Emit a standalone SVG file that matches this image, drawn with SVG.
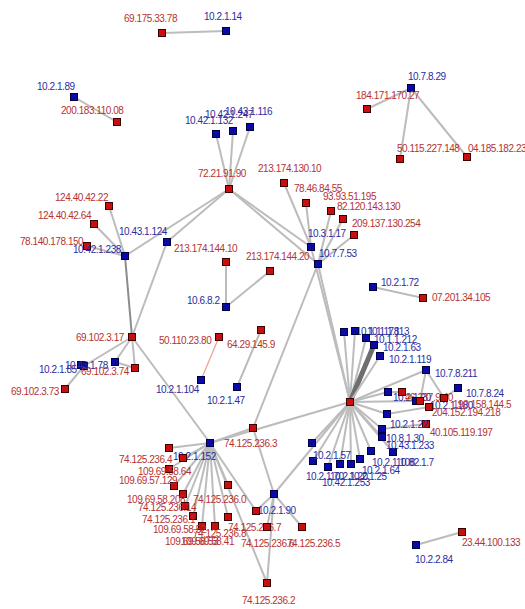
<svg xmlns="http://www.w3.org/2000/svg" width="525" height="609" viewBox="0 0 525 609">
<defs>
<style>
.e{stroke:#bcbcbc;stroke-width:2;fill:none}
.ed{stroke:#8c8c8c;stroke-width:2}
.et{stroke:#6e6e6e;stroke-width:5}
.es{stroke:#e9a08c;stroke-width:1.2}
.r{fill:#c80e0e;stroke:#3a0000;stroke-width:1}
.b{fill:#0a0aa8;stroke:#00003a;stroke-width:1}
text{font-family:"Liberation Sans",Arial,sans-serif;font-size:10px;letter-spacing:-0.45px}
.lr{fill:#b53232}
.lb{fill:#2b2ba0}
</style>
</defs>
<rect width="525" height="609" fill="#ffffff"/>
<g id="connectors">
<line class="e" x1="162" y1="33" x2="226" y2="31"/>
<line class="e" x1="74" y1="97" x2="117" y2="122"/>
<line class="e" x1="411" y1="88" x2="367" y2="109"/>
<line class="e" x1="411" y1="88" x2="400" y2="159"/>
<line class="e" x1="411" y1="88" x2="467" y2="157"/>
<line class="e" x1="229" y1="189" x2="216" y2="134"/>
<line class="e" x1="229" y1="189" x2="233" y2="131"/>
<line class="e" x1="229" y1="189" x2="250" y2="127"/>
<line class="e" x1="229" y1="189" x2="125" y2="256"/>
<line class="e" x1="229" y1="189" x2="167" y2="242"/>
<line class="e" x1="229" y1="189" x2="311" y2="247"/>
<line class="e" x1="229" y1="189" x2="318" y2="264"/>
<line class="e" x1="125" y1="256" x2="109" y2="206"/>
<line class="e" x1="125" y1="256" x2="94" y2="224"/>
<line class="e" x1="125" y1="256" x2="87" y2="246"/>
<line class="ed" x1="125" y1="256" x2="132" y2="337"/>
<line class="e" x1="167" y1="242" x2="132" y2="337"/>
<line class="e" x1="226" y1="262" x2="226" y2="307"/>
<line class="e" x1="226" y1="307" x2="270" y2="271"/>
<line class="e" x1="311" y1="247" x2="284" y2="183"/>
<line class="e" x1="311" y1="247" x2="306" y2="203"/>
<line class="e" x1="318" y1="264" x2="331" y2="211"/>
<line class="e" x1="318" y1="264" x2="343" y2="219"/>
<line class="e" x1="318" y1="264" x2="354" y2="235"/>
<line class="e" x1="311" y1="247" x2="350" y2="402"/>
<line class="e" x1="318" y1="264" x2="350" y2="402"/>
<line class="e" x1="318" y1="264" x2="253" y2="428"/>
<line class="e" x1="373" y1="287" x2="423" y2="298"/>
<line class="e" x1="132" y1="337" x2="84" y2="366"/>
<line class="e" x1="132" y1="337" x2="115" y2="362"/>
<line class="e" x1="132" y1="337" x2="135" y2="368"/>
<line class="e" x1="115" y1="362" x2="135" y2="368"/>
<line class="e" x1="132" y1="337" x2="210" y2="443"/>
<line class="e" x1="65" y1="389" x2="84" y2="366"/>
<line class="es" x1="219" y1="337" x2="201" y2="380"/>
<line class="e" x1="261" y1="330" x2="237" y2="387"/>
<line class="e" x1="350" y1="402" x2="344" y2="332"/>
<line class="e" x1="350" y1="402" x2="355" y2="331"/>
<line class="e" x1="350" y1="402" x2="366" y2="338"/>
<line class="et" x1="350" y1="402" x2="374" y2="345"/>
<line class="e" x1="350" y1="402" x2="380" y2="356"/>
<line class="e" x1="350" y1="402" x2="426" y2="370"/>
<line class="e" x1="350" y1="402" x2="388" y2="392"/>
<line class="e" x1="350" y1="402" x2="416" y2="401"/>
<line class="e" x1="350" y1="402" x2="387" y2="414"/>
<line class="e" x1="350" y1="402" x2="382" y2="429"/>
<line class="e" x1="350" y1="402" x2="382" y2="437"/>
<line class="e" x1="350" y1="402" x2="393" y2="452"/>
<line class="e" x1="350" y1="402" x2="371" y2="451"/>
<line class="e" x1="350" y1="402" x2="360" y2="459"/>
<line class="e" x1="350" y1="402" x2="351" y2="464"/>
<line class="e" x1="350" y1="402" x2="340" y2="464"/>
<line class="e" x1="350" y1="402" x2="328" y2="467"/>
<line class="e" x1="350" y1="402" x2="313" y2="461"/>
<line class="e" x1="350" y1="402" x2="312" y2="443"/>
<line class="e" x1="350" y1="402" x2="274" y2="494"/>
<line class="e" x1="350" y1="402" x2="210" y2="443"/>
<line class="e" x1="426" y1="370" x2="444" y2="398"/>
<line class="e" x1="426" y1="370" x2="420" y2="401"/>
<line class="e" x1="458" y1="388" x2="444" y2="398"/>
<line class="e" x1="388" y1="392" x2="402" y2="392"/>
<line class="e" x1="387" y1="414" x2="429" y2="407"/>
<line class="e" x1="382" y1="429" x2="426" y2="424"/>
<line class="e" x1="210" y1="443" x2="169" y2="448"/>
<line class="e" x1="210" y1="443" x2="183" y2="458"/>
<line class="e" x1="210" y1="443" x2="169" y2="469"/>
<line class="e" x1="210" y1="443" x2="174" y2="486"/>
<line class="e" x1="210" y1="443" x2="183" y2="494"/>
<line class="e" x1="210" y1="443" x2="185" y2="506"/>
<line class="e" x1="210" y1="443" x2="193" y2="516"/>
<line class="e" x1="210" y1="443" x2="202" y2="526"/>
<line class="e" x1="210" y1="443" x2="215" y2="526"/>
<line class="e" x1="210" y1="443" x2="228" y2="517"/>
<line class="e" x1="210" y1="443" x2="228" y2="485"/>
<line class="e" x1="210" y1="443" x2="256" y2="511"/>
<line class="e" x1="210" y1="443" x2="267" y2="583"/>
<line class="e" x1="210" y1="443" x2="253" y2="428"/>
<line class="e" x1="274" y1="494" x2="253" y2="428"/>
<line class="e" x1="274" y1="494" x2="256" y2="511"/>
<line class="e" x1="274" y1="494" x2="267" y2="527"/>
<line class="e" x1="274" y1="494" x2="302" y2="527"/>
<line class="e" x1="274" y1="494" x2="267" y2="583"/>
<line class="e" x1="416" y1="545" x2="462" y2="532"/>
</g>
<g id="n1"><rect class="r" x="158.5" y="29.5" width="7" height="7"/><text class="lr" x="124" y="22">69.175.33.78</text></g>
<g id="n2"><rect class="b" x="222.5" y="27.5" width="7" height="7"/><text class="lb" x="204" y="20">10.2.1.14</text></g>
<g id="n3"><rect class="b" x="70.5" y="93.5" width="7" height="7"/><text class="lb" x="37" y="90">10.2.1.89</text></g>
<g id="n4"><rect class="r" x="113.5" y="118.5" width="7" height="7"/><text class="lr" x="61" y="114">200.183.110.08</text></g>
<g id="n5"><rect class="b" x="407.5" y="84.5" width="7" height="7"/><text class="lb" x="408" y="80">10.7.8.29</text></g>
<g id="n6"><rect class="r" x="363.5" y="105.5" width="7" height="7"/><text class="lr" x="356" y="99">184.171.170.27</text></g>
<g id="n7"><rect class="r" x="396.5" y="155.5" width="7" height="7"/><text class="lr" x="397" y="152">50.115.227.148</text></g>
<g id="n8"><rect class="r" x="463.5" y="153.5" width="7" height="7"/><text class="lr" x="468" y="152">04.185.182.23</text></g>
<g id="n9"><rect class="b" x="212.5" y="130.5" width="7" height="7"/><text class="lb" x="185" y="124">10.42.1.132</text></g>
<g id="n10"><rect class="b" x="229.5" y="127.5" width="7" height="7"/><text class="lb" x="205" y="118">10.42.1.247</text></g>
<g id="n11"><rect class="b" x="246.5" y="123.5" width="7" height="7"/><text class="lb" x="225" y="115">10.43.1.116</text></g>
<g id="n12"><rect class="r" x="225.5" y="185.5" width="7" height="7"/><text class="lr" x="198" y="177">72.21.91.90</text></g>
<g id="n13"><rect class="r" x="280.5" y="179.5" width="7" height="7"/><text class="lr" x="258" y="172">213.174.130.10</text></g>
<g id="n14"><rect class="r" x="302.5" y="199.5" width="7" height="7"/><text class="lr" x="294" y="192">78.46.84.55</text></g>
<g id="n15"><rect class="r" x="327.5" y="207.5" width="7" height="7"/><text class="lr" x="323" y="200">93.93.51.195</text></g>
<g id="n16"><rect class="r" x="339.5" y="215.5" width="7" height="7"/><text class="lr" x="337" y="210">82.120.143.130</text></g>
<g id="n17"><rect class="r" x="350.5" y="231.5" width="7" height="7"/><text class="lr" x="352" y="227">209.137.130.254</text></g>
<g id="n18"><rect class="b" x="307.5" y="243.5" width="7" height="7"/><text class="lb" x="308" y="237">10.3.1.17</text></g>
<g id="n19"><rect class="b" x="314.5" y="260.5" width="7" height="7"/><text class="lb" x="319" y="257">10.7.7.53</text></g>
<g id="n20"><rect class="r" x="105.5" y="202.5" width="7" height="7"/><text class="lr" x="55" y="201">124.40.42.22</text></g>
<g id="n21"><rect class="r" x="90.5" y="220.5" width="7" height="7"/><text class="lr" x="38" y="219">124.40.42.64</text></g>
<g id="n22"><rect class="r" x="83.5" y="242.5" width="7" height="7"/><text class="lr" x="20" y="245">78.140.178.150</text></g>
<g id="n23"><rect class="b" x="121.5" y="252.5" width="7" height="7"/><text class="lb" x="73" y="253">10.42.1.238</text></g>
<g id="n24"><rect class="b" x="163.5" y="238.5" width="7" height="7"/><text class="lb" x="119" y="235">10.43.1.124</text></g>
<g id="n25"><rect class="r" x="222.5" y="258.5" width="7" height="7"/><text class="lr" x="174" y="252">213.174.144.10</text></g>
<g id="n26"><rect class="r" x="266.5" y="267.5" width="7" height="7"/><text class="lr" x="246" y="260">213.174.144.20</text></g>
<g id="n27"><rect class="b" x="222.5" y="303.5" width="7" height="7"/><text class="lb" x="187" y="304">10.6.8.2</text></g>
<g id="n28"><rect class="b" x="369.5" y="283.5" width="7" height="7"/><text class="lb" x="381" y="286">10.2.1.72</text></g>
<g id="n29"><rect class="r" x="419.5" y="294.5" width="7" height="7"/><text class="lr" x="432" y="301">07.201.34.105</text></g>
<g id="n30"><rect class="r" x="128.5" y="333.5" width="7" height="7"/><text class="lr" x="76" y="341">69.102.3.17</text></g>
<g id="n31"><rect class="r" x="215.5" y="333.5" width="7" height="7"/><text class="lr" x="159" y="344">50.110.23.80</text></g>
<g id="n32"><rect class="r" x="257.5" y="326.5" width="7" height="7"/><text class="lr" x="227" y="348">64.29.145.9</text></g>
<g id="n33"><rect class="b" x="197.5" y="376.5" width="7" height="7"/><text class="lb" x="156" y="393">10.2.1.104</text></g>
<g id="n34"><rect class="b" x="233.5" y="383.5" width="7" height="7"/><text class="lb" x="207" y="404">10.2.1.47</text></g>
<g id="n36"><rect class="b" x="77.5" y="361.5" width="7" height="7"/><text class="lb" x="39" y="373">10.2.1.85</text></g>
<g id="n35"><rect class="b" x="80.5" y="362.5" width="7" height="7"/><text class="lb" x="65" y="369">10.43.1.78</text></g>
<g id="n37"><rect class="b" x="111.5" y="358.5" width="7" height="7"/></g>
<g id="n38"><rect class="r" x="131.5" y="364.5" width="7" height="7"/><text class="lr" x="81" y="375">69.102.3.74</text></g>
<g id="n39"><rect class="r" x="61.5" y="385.5" width="7" height="7"/><text class="lr" x="11" y="395">69.102.3.73</text></g>
<g id="hub"><rect class="r" x="346.5" y="398.5" width="7" height="7"/></g>
<g id="b1"><rect class="b" x="340.5" y="328.5" width="7" height="7"/><text class="lb" x="356" y="335">10.1.1.178</text></g>
<g id="b2"><rect class="b" x="351.5" y="327.5" width="7" height="7"/><text class="lb" x="367" y="335">10.1.1.113</text></g>
<g id="b3"><rect class="b" x="362.5" y="334.5" width="7" height="7"/><text class="lb" x="374" y="343">10.1.1.212</text></g>
<g id="b4"><rect class="b" x="370.5" y="341.5" width="7" height="7"/><text class="lb" x="383" y="351">10.2.1.63</text></g>
<g id="b5"><rect class="b" x="376.5" y="352.5" width="7" height="7"/><text class="lb" x="389" y="363">10.2.1.119</text></g>
<g id="b6"><rect class="b" x="422.5" y="366.5" width="7" height="7"/><text class="lb" x="435" y="377">10.7.8.211</text></g>
<g id="b7"><rect class="b" x="384.5" y="388.5" width="7" height="7"/><text class="lb" x="393" y="401">10.2.1.20</text></g>
<g id="r1"><rect class="r" x="398.5" y="388.5" width="7" height="7"/><text class="lr" x="405" y="401">46.237.9.40</text></g>
<g id="b8"><rect class="b" x="412.5" y="397.5" width="7" height="7"/><text class="lb" x="430" y="409">10.2.1.180</text></g>
<g id="r2"><rect class="r" x="416.5" y="397.5" width="7" height="7"/></g>
<g id="r4"><rect class="r" x="440.5" y="394.5" width="7" height="7"/><text class="lr" x="453" y="408">190.158.144.5</text></g>
<g id="r3"><rect class="r" x="425.5" y="403.5" width="7" height="7"/><text class="lr" x="432" y="416">204.152.194.218</text></g>
<g id="b9"><rect class="b" x="454.5" y="384.5" width="7" height="7"/><text class="lb" x="466" y="397">10.7.8.24</text></g>
<g id="r5"><rect class="r" x="422.5" y="420.5" width="7" height="7"/><text class="lr" x="430" y="436">40.105.119.197</text></g>
<g id="b10"><rect class="b" x="383.5" y="410.5" width="7" height="7"/><text class="lb" x="390" y="428">10.2.1.22</text></g>
<g id="b11"><rect class="b" x="378.5" y="425.5" width="7" height="7"/><text class="lb" x="386" y="442">10.8.1.30</text></g>
<g id="b12"><rect class="b" x="378.5" y="433.5" width="7" height="7"/></g>
<g id="b13"><rect class="b" x="389.5" y="448.5" width="7" height="7"/><text class="lb" x="386" y="449">10.43.1.233</text></g>
<g id="b14"><rect class="b" x="367.5" y="447.5" width="7" height="7"/><text class="lb" x="372" y="466">10.2.1.108</text><text class="lb" x="396" y="466">10.82.1.7</text></g>
<g id="b15"><rect class="b" x="356.5" y="455.5" width="7" height="7"/><text class="lb" x="362" y="474">10.2.1.64</text></g>
<g id="b16"><rect class="b" x="347.5" y="460.5" width="7" height="7"/><text class="lb" x="349" y="480">10.2.1.25</text></g>
<g id="b17"><rect class="b" x="336.5" y="460.5" width="7" height="7"/><text class="lb" x="330" y="480">10.2.1.20</text></g>
<g id="b18"><rect class="b" x="324.5" y="463.5" width="7" height="7"/><text class="lb" x="322" y="486">10.42.1.253</text></g>
<g id="b19"><rect class="b" x="309.5" y="457.5" width="7" height="7"/><text class="lb" x="306" y="480">10.2.1.70</text></g>
<g id="b20"><rect class="b" x="308.5" y="439.5" width="7" height="7"/><text class="lb" x="313" y="459">10.2.1.57</text></g>
<g id="b21"><rect class="b" x="206.5" y="439.5" width="7" height="7"/><text class="lb" x="173" y="460">10.2.1.152</text></g>
<g id="c1"><rect class="r" x="249.5" y="424.5" width="7" height="7"/><text class="lr" x="224" y="447">74.125.236.3</text></g>
<g id="c2"><rect class="r" x="165.5" y="444.5" width="7" height="7"/><text class="lr" x="119" y="463">74.125.236.4</text></g>
<g id="c3"><rect class="r" x="179.5" y="454.5" width="7" height="7"/></g>
<g id="c4"><rect class="r" x="165.5" y="465.5" width="7" height="7"/><text class="lr" x="138" y="475">109.69.58.64</text></g>
<g id="c5"><rect class="r" x="170.5" y="482.5" width="7" height="7"/><text class="lr" x="119" y="484">109.69.57.129</text></g>
<g id="c6"><rect class="r" x="179.5" y="490.5" width="7" height="7"/><text class="lr" x="127" y="503">109.69.58.208</text></g>
<g id="c7"><rect class="r" x="181.5" y="502.5" width="7" height="7"/><text class="lr" x="138" y="511">74.125.236.14</text></g>
<g id="c8"><rect class="r" x="224.5" y="481.5" width="7" height="7"/><text class="lr" x="193" y="503">74.125.236.0</text></g>
<g id="c9"><rect class="r" x="189.5" y="512.5" width="7" height="7"/><text class="lr" x="142" y="523">74.125.236.1</text></g>
<g id="c10"><rect class="r" x="198.5" y="522.5" width="7" height="7"/><text class="lr" x="153" y="533">109.69.58.52</text></g>
<g id="c11"><rect class="r" x="211.5" y="522.5" width="7" height="7"/><text class="lr" x="193" y="537">74.125.236.8</text></g>
<g id="c12"><rect class="r" x="224.5" y="513.5" width="7" height="7"/><text class="lr" x="165" y="545">109.69.58.53</text><text class="lr" x="181" y="545">109.69.58.41</text></g>
<g id="b22"><rect class="b" x="270.5" y="490.5" width="7" height="7"/><text class="lb" x="258" y="514">10.2.1.90</text></g>
<g id="c13"><rect class="r" x="252.5" y="507.5" width="7" height="7"/><text class="lr" x="228" y="531">74.125.236.7</text></g>
<g id="c14"><rect class="r" x="263.5" y="523.5" width="7" height="7"/><text class="lr" x="241" y="547">74.125.236.6</text></g>
<g id="c15"><rect class="r" x="298.5" y="523.5" width="7" height="7"/><text class="lr" x="287" y="547">74.125.236.5</text></g>
<g id="c16"><rect class="r" x="263.5" y="579.5" width="7" height="7"/><text class="lr" x="242" y="604">74.125.236.2</text></g>
<g id="d1"><rect class="b" x="412.5" y="541.5" width="7" height="7"/><text class="lb" x="415" y="563">10.2.2.84</text></g>
<g id="d2"><rect class="r" x="458.5" y="528.5" width="7" height="7"/><text class="lr" x="462" y="546">23.44.100.133</text></g>
</svg>
